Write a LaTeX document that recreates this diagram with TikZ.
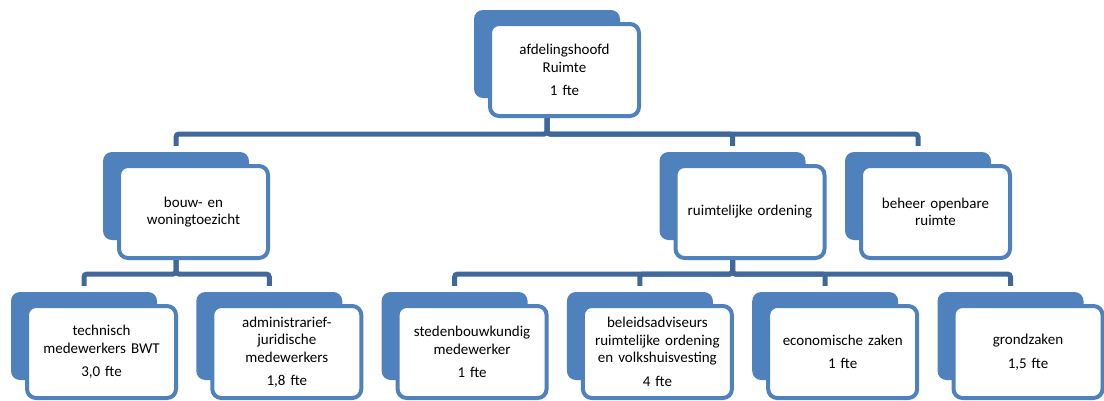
\documentclass[tikz,border=0pt]{standalone}
\usepackage{fontspec}
\setmainfont{Carlito}
\definecolor{accent}{HTML}{4F81BD}
\definecolor{lijnblauw}{HTML}{41689C}

\begin{document}
\begin{tikzpicture}[x=1pt, y=-1pt,
    achter/.style={rectangle, rounded corners=9pt, fill=accent, minimum width=146pt, minimum height=88pt, inner sep=0pt},
    voor/.style={rectangle, rounded corners=9pt, draw=accent, line width=4pt, fill=white, minimum width=149pt, minimum height=92pt, text width=142pt, align=center, inner sep=0pt, font=\fontsize{15}{17.5}\selectfont},
    lijn/.style={draw=lijnblauw, line width=5pt, rounded corners=3pt}]
  \useasboundingbox (0,0) rectangle (1104,400);

  \node[achter] (hoofd-b) at (547,54) {};
  \node[voor] (hoofd) at (564.5,70) {afdelingshoofd\\Ruimte\\[6pt]1 fte};

  \node[achter] (bwt-b) at (176,196) {};
  \node[voor] (bwt) at (193.5,212) {bouw- en\\woningtoezicht};
  \node[achter] (ro-b) at (732.5,196) {};
  \node[voor] (ro) at (750,212) {ruimtelijke ordening};
  \node[achter] (bor-b) at (918,196) {};
  \node[voor] (bor) at (935.5,212) {beheer openbare\\ruimte};

  \node[achter] (tech-b) at (84,336) {};
  \node[voor] (tech) at (101.5,352) {technisch\\medewerkers BWT\\[6pt]3,0 fte};
  \node[achter] (adm-b) at (269.3,336) {};
  \node[voor] (adm) at (286.8,352) {administrarief-\\juridische\\medewerkers\\[6pt]1,8 fte};
  \node[achter] (sted-b) at (454.6,336) {};
  \node[voor] (sted) at (472.1,352) {stedenbouwkundig\\medewerker\\[6pt]1 fte};
  \node[achter] (beleid-b) at (639.9,336) {};
  \node[voor] (beleid) at (657.4,352) {beleidsadviseurs\\ruimtelijke ordening\\en volkshuisvesting\\[6pt]4 fte};
  \node[achter] (eco-b) at (825.2,336) {};
  \node[voor] (eco) at (842.7,352) {economische zaken\\[6pt]1 fte};
  \node[achter] (grond-b) at (1010.5,336) {};
  \node[voor] (grond) at (1028,352) {grondzaken\\[6pt]1,5 fte};

  \draw[lijn] (hoofd-b.center |- hoofd.south) |- (bwt-b.center |- 0,134) -- ([yshift=6pt]bwt-b.north);
  \draw[lijn] (hoofd-b.center |- hoofd.south) |- (ro-b.center |- 0,134) -- ([yshift=6pt]ro-b.north);
  \draw[lijn] (hoofd-b.center |- hoofd.south) |- (bor-b.center |- 0,134) -- ([yshift=6pt]bor-b.north);

  \draw[lijn] (bwt-b.center |- bwt.south) |- (tech-b.center |- 0,274) -- ([yshift=6pt]tech-b.north);
  \draw[lijn] (bwt-b.center |- bwt.south) |- (adm-b.center |- 0,274) -- ([yshift=6pt]adm-b.north);

  \draw[lijn] (ro-b.center |- ro.south) |- (sted-b.center |- 0,274) -- ([yshift=6pt]sted-b.north);
  \draw[lijn] (ro-b.center |- ro.south) |- (beleid-b.center |- 0,274) -- ([yshift=6pt]beleid-b.north);
  \draw[lijn] (ro-b.center |- ro.south) |- (eco-b.center |- 0,274) -- ([yshift=6pt]eco-b.north);
  \draw[lijn] (ro-b.center |- ro.south) |- (grond-b.center |- 0,274) -- ([yshift=6pt]grond-b.north);
\end{tikzpicture}
\end{document}
